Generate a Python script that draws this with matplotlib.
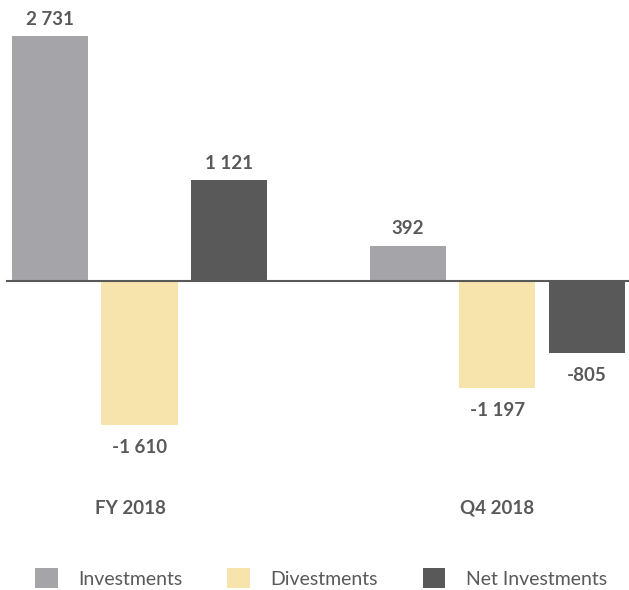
import matplotlib
matplotlib.use('Agg')
import matplotlib.pyplot as plt
from matplotlib.patches import Patch

# data
groups = ['FY 2018', 'Q4 2018']
series = ['Investments', 'Divestments', 'Net Investments']
investments = [2731, 392]
divestments = [-1610, -1197]
net_investments = [1121, -805]
colors = ['#a5a4a8', '#f7e4ad', '#595959']

text_color = '#595959'
plt.rcParams['font.family'] = ['Lato', 'DejaVu Sans']

fig = plt.figure(figsize=(6.29, 5.90), dpi=100)
ax = fig.add_axes([0, 120 / 590, 1, 470 / 590])

values = [investments, divestments, net_investments]
bar_w = 0.85
for g in range(len(groups)):
    base = g * 4
    for s in range(len(series)):
        x = base + s
        v = values[s][g]
        ax.bar(x, v, width=bar_w, color=colors[s], zorder=2)
        lab = f'{v:,}'.replace(',', ' ')
        if v >= 0:
            ax.annotate(lab, (x, v), xytext=(0, 6), textcoords='offset points',
                        ha='center', va='bottom', fontsize=13.5,
                        fontweight='bold', color=text_color)
        else:
            ax.annotate(lab, (x, v), xytext=(0, -10), textcoords='offset points',
                        ha='center', va='top', fontsize=13.5,
                        fontweight='bold', color=text_color)

ax.hlines(0, -0.49, 6.47, color=text_color, lw=1.5, zorder=3)
ax.set_xlim(-0.559, 6.47)
ax.set_ylim(-2107, 3132)
ax.axis('off')

# group labels under the plot
for g in range(len(groups)):
    ax.text(g * 4 + 1 - 0.1 * (g == 0), -2107 - (508 - 470) / 0.0897,
            groups[g], ha='center', va='center', fontsize=13.5,
            fontweight='bold', color=text_color, clip_on=False)

handles = [Patch(facecolor=c, edgecolor='none') for c in colors]
fig.legend(handles, series, ncol=3, loc='center', bbox_to_anchor=(0.51, 1 - 578 / 590),
           frameon=False, fontsize=14, labelcolor=text_color,
           handlelength=1.18, handleheight=1.18, handletextpad=1.05,
           columnspacing=2.3)

fig.savefig('out.png', dpi=100)
